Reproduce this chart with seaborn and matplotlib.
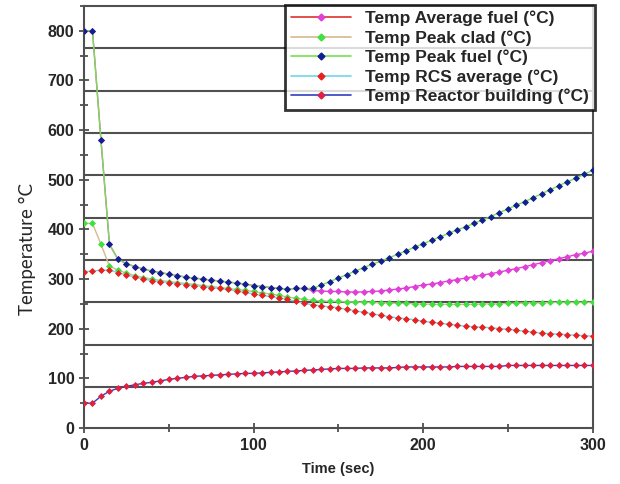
import numpy as np
import pandas as pd
import matplotlib
matplotlib.use("Agg")
import matplotlib.pyplot as plt
from matplotlib.lines import Line2D
from matplotlib.ticker import MultipleLocator
import seaborn as sns

# time axis, one sample every 5 s
time_s = list(range(0, 305, 5))

peak_fuel = [800, 800, 580, 370, 340, 331, 325, 320, 316, 313,
             310, 307, 304, 302, 300, 298, 296, 294, 292, 290,
             287, 285, 283, 281, 280, 281, 281, 281, 288, 295,
             302, 309, 316, 323, 330, 336, 343, 350, 357, 364,
             371, 378, 385, 392, 399, 405, 412, 419, 426, 434,
             441, 449, 456, 464, 472, 480, 488, 496, 503, 511, 519]

avg_fuel = peak_fuel[:27] + [
             277, 276, 275, 275, 274, 274, 274, 275, 276, 278,
             280, 282, 285, 288, 290, 293, 296, 299, 302, 305,
             308, 311, 314, 318, 321, 325, 329, 333, 337, 341,
             345, 349, 352, 356]

peak_clad = [412, 412, 370, 326, 318, 312, 307, 303, 300, 297,
             295, 293, 291, 289, 287, 285, 283, 281, 279, 277,
             275, 272, 270, 267, 264, 261, 259, 257, 256, 255,
             255, 254, 254, 253, 253, 252, 252, 251, 251, 250,
             250, 249, 249, 249, 249, 249, 249, 250, 250, 250,
             251, 251, 252, 252, 252, 253, 253, 253, 253, 253, 253]

rcs_avg = [315, 316, 318, 318, 313, 308, 304, 300, 297, 295,
           293, 291, 289, 287, 285, 283, 281, 279, 276, 273,
           270, 267, 265, 262, 259, 255, 251, 248, 246, 244,
           242, 239, 236, 233, 230, 227, 224, 222, 220, 218,
           215, 213, 211, 209, 207, 205, 204, 203, 202, 200,
           199, 197, 195, 193, 191, 190, 189, 188, 187, 186, 185]

reactor_bldg = [50, 50, 64, 74, 80, 84, 87, 90, 92, 95,
                98, 100, 102, 104, 105, 106, 107, 108, 109, 110,
                110, 111, 112, 113, 114, 115, 116, 117, 118, 119,
                120, 120, 120, 121, 121, 121, 121, 122, 123, 123,
                123, 123, 123, 123, 124, 124, 124, 124, 124, 124,
                126, 126, 126, 126, 126, 126, 126, 126, 126, 126, 126]

labels = ["Temp Average fuel (\u00b0C)", "Temp Peak clad (\u00b0C)",
          "Temp Peak fuel (\u00b0C)", "Temp RCS average (\u00b0C)",
          "Temp Reactor building (\u00b0C)"]
series = [avg_fuel, peak_clad, peak_fuel, rcs_avg, reactor_bldg]

# the odd horizontal rules drawn across the plot
rule_levels = [83, 167, 254, 339, 423, 510, 595, 679, 766]

line_cols = ["#e040d8", "#d8b890", "#78e050", "#70d8e8", "#3040c0"]
legend_line_cols = ["#e03030", "#d8b890", "#78e050", "#70d8e8", "#3040c0"]
marker_cols = ["#e040d8", "#40e040", "#102090", "#e82020", "#e02040"]

sns.set_style("white")
plt.rcParams["font.family"] = ["Liberation Sans", "DejaVu Sans"]

fig = plt.figure(figsize=(6.2, 4.84), dpi=100)
ax = fig.add_axes([0.1355, 0.1157, 0.8205, 0.8719])

for y in rule_levels:
    ax.axhline(y, color="#505050", lw=1.5, zorder=1)

for vals, lc, mc in zip(series, line_cols, marker_cols):
    sns.lineplot(x=time_s, y=vals, color=lc, lw=1.0, marker="D",
                 markersize=3.0, markerfacecolor=mc, markeredgecolor=mc,
                 markeredgewidth=0.6, ax=ax, legend=False, zorder=3)

ax.set_xlim(0, 300)
ax.set_ylim(0, 850)
ax.set_xticks([0, 100, 200, 300])
ax.set_yticks(range(0, 900, 100))
ax.xaxis.set_minor_locator(MultipleLocator(50))
ax.yaxis.set_minor_locator(MultipleLocator(50))
ax.tick_params(which="both", direction="inout", color="#404040", width=1.2,
               left=True, bottom=True)
ax.tick_params(which="major", length=7, labelsize=11.5)
ax.tick_params(which="minor", length=6)
for lab in ax.get_xticklabels() + ax.get_yticklabels():
    lab.set_fontweight("bold")
for s in ax.spines.values():
    s.set_color("#505050")
    s.set_linewidth(1.5)

ax.set_xlabel("Time (sec)", fontsize=10.5, fontweight="bold", labelpad=7)
ax.set_ylabel("Temperature \u00b0C", fontsize=13.5, family=["Lato", "DejaVu Sans"])
ax.yaxis.set_label_coords(-0.095, 0.425)

handles = [Line2D([0], [0], color=lc, lw=1.2, marker="D", markersize=3.5,
                  markerfacecolor=mc, markeredgecolor=mc)
           for lc, mc in zip(legend_line_cols, marker_cols)]
leg = ax.legend(handles, labels, loc="upper right", bbox_to_anchor=(0.96, 0.99),
                bbox_transform=fig.transFigure, frameon=True, fancybox=False,
                handlelength=3.5, labelspacing=0.22, borderpad=0.35,
                prop={"weight": "bold", "size": 12.5}, borderaxespad=0)
leg.get_frame().set_edgecolor("black")
leg.get_frame().set_linewidth(2)
leg.set_zorder(5)

fig.savefig("out.png", dpi=100)
